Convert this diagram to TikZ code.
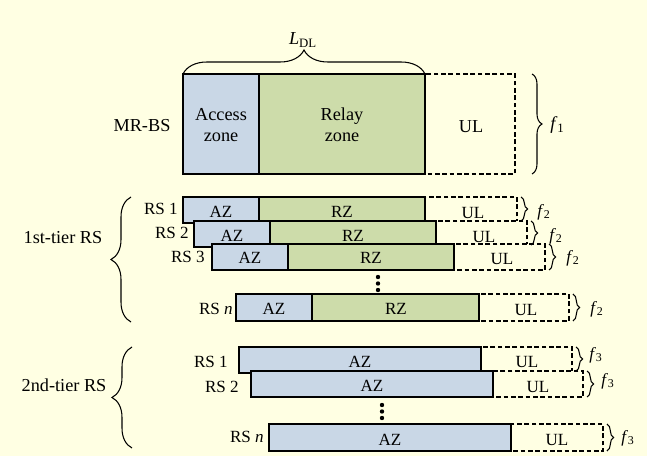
\documentclass[tikz,border=0pt]{standalone}
\usepackage{fontspec}
\setmainfont{Liberation Serif}
\usepackage{xcolor}
\usepackage{tikz}
\usetikzlibrary{decorations.pathreplacing}

\definecolor{bgyellow}{RGB}{255,255,227}
\definecolor{azblue}{RGB}{201,215,230}
\definecolor{rzgreen}{RGB}{205,220,170}

\begin{document}
\begin{tikzpicture}[x=0.75pt,y=0.75pt,yscale=-1,xscale=1,
  zonebox/.style={draw=black,line width=1.1pt},
  azbox/.style={zonebox,fill=azblue},
  rzbox/.style={zonebox,fill=rzgreen},
  ulbox/.style={draw=black,line width=1pt,dash pattern=on 3.5pt off 2pt,fill=bgyellow},
  rowtxt/.style={font=\rmfamily\fontsize{12.8}{14}\selectfont,inner sep=0pt},
  bigtxt/.style={font=\rmfamily\fontsize{13.7}{16}\selectfont,inner sep=0pt,align=center},
  brc/.style={draw=black,line width=0.8pt,decorate,decoration={brace,amplitude=#1}},
  ]
%set diagram size to 647 x 456
\fill [bgyellow] (0,0) rectangle (647,456);
\useasboundingbox (0,0) rectangle (647,456);

%Shape: MR-BS frame
\draw [ulbox] (425,74) rectangle (515,174);
\draw [azbox] (183,74) rectangle (259,174);
\draw [rzbox] (259,74) rectangle (425,174);
%Shape: Brace L_DL
\draw [brc=18pt] (183,74) -- (425,74);
%Shape: Brace f1
\draw [brc=7.5pt] (532,74) -- (532,174);

% Text Node
\node [bigtxt] (ldl) at (303,40) {\textit{L}\textsubscript{DL}};
\node [bigtxt] (mrbs) at (142,126) {MR-BS};
\node [bigtxt] (access) at (221,125) {Access\\zone};
\node [bigtxt] (relay) at (342,125) {Relay\\zone};
\node [bigtxt] (ulbs) at (471,127) {UL};
\node [bigtxt,anchor=west] (fone) at (550,125) {\textit{f}\textsubscript{1}};

%Shape: 1st-tier RS 1
\draw [ulbox] (425,197) rectangle (517,223);
\draw [azbox] (183,197) rectangle (259,223);
\draw [rzbox] (259,197) rectangle (425,223);
%Shape: 1st-tier RS 2
\draw [ulbox] (436,221) rectangle (527,247);
\draw [azbox] (194,221) rectangle (270,247);
\draw [rzbox] (270,221) rectangle (436,247);
%Shape: 1st-tier RS 3
\draw [ulbox] (454,244) rectangle (545,270);
\draw [azbox] (212,244) rectangle (288,270);
\draw [rzbox] (288,244) rectangle (454,270);
%Shape: 1st-tier RS n
\draw [ulbox] (479,294) rectangle (569,321);
\draw [azbox] (236,294) rectangle (312,321);
\draw [rzbox] (312,294) rectangle (479,321);
%Shape: Dots
\fill (378,277) circle (2.2) (378,283.5) circle (2.2) (378,290) circle (2.2);
%Shape: Braces f2
\draw [brc=5pt] (521,197) -- (521,221);
\draw [brc=5pt] (531,221) -- (531,245);
\draw [brc=5pt] (549,244) -- (549,270);
\draw [brc=5pt] (573,294) -- (573,321);
%Shape: Brace 1st-tier
\draw [brc=15pt] (131,322) -- (131,197);

% Text Node
\node [bigtxt] (tierone) at (63,238) {1st-tier RS};
\node [rowtxt,anchor=east] (rsa) at (178,209) {RS 1};
\node [rowtxt,anchor=east] (rsb) at (189,233) {RS 2};
\node [rowtxt,anchor=east] (rsc) at (205,257) {RS 3};
\node [rowtxt,anchor=east] (rsn) at (233,309) {RS \textit{n}};
\node [rowtxt] (aza) at (221,212) {AZ};
\node [rowtxt] (rza) at (342,212) {RZ};
\node [rowtxt] (ula) at (473,213) {UL};
\node [rowtxt] (azb) at (232,236) {AZ};
\node [rowtxt] (rzb) at (353,236) {RZ};
\node [rowtxt] (ulb) at (484,237) {UL};
\node [rowtxt] (azc) at (250,258) {AZ};
\node [rowtxt] (rzc) at (371,258) {RZ};
\node [rowtxt] (ulc) at (502,259) {UL};
\node [rowtxt] (azn) at (274,309) {AZ};
\node [rowtxt] (rzn) at (396,309) {RZ};
\node [rowtxt] (uln) at (526,310) {UL};
\node [rowtxt,anchor=west] (fta) at (537,212) {\textit{f}\textsubscript{2}};
\node [rowtxt,anchor=west] (ftb) at (549,236) {\textit{f}\textsubscript{2}};
\node [rowtxt,anchor=west] (ftc) at (566,258) {\textit{f}\textsubscript{2}};
\node [rowtxt,anchor=west] (ftn) at (590,309) {\textit{f}\textsubscript{2}};

%Shape: 2nd-tier RS 1
\draw [ulbox] (481,347) rectangle (572,373);
\draw [azbox] (239,347) rectangle (481,373);
%Shape: 2nd-tier RS 2
\draw [ulbox] (493,371) rectangle (583,397);
\draw [azbox] (251,371) rectangle (493,397);
%Shape: 2nd-tier RS n
\draw [ulbox] (511,424) rectangle (603,451);
\draw [azbox] (269,424) rectangle (511,451);
%Shape: Dots
\fill (382,405) circle (2.2) (382,411.5) circle (2.2) (382,418) circle (2.2);
%Shape: Braces f3
\draw [brc=5pt] (576,347) -- (576,371);
\draw [brc=5pt] (587,371) -- (587,397);
\draw [brc=5pt] (607,424) -- (607,451);
%Shape: Brace 2nd-tier
\draw [brc=15pt] (132,448) -- (132,347);

% Text Node
\node [bigtxt] (tiertwo) at (64,385) {2nd-tier RS};
\node [rowtxt,anchor=east] (rsd) at (228,362) {RS 1};
\node [rowtxt,anchor=east] (rse) at (239,387) {RS 2};
\node [rowtxt,anchor=east] (rsm) at (264,437) {RS \textit{n}};
\node [rowtxt] (azd) at (360,362) {AZ};
\node [rowtxt] (uld) at (527,362) {UL};
\node [rowtxt] (aze) at (372,386) {AZ};
\node [rowtxt] (ule) at (538,387) {UL};
\node [rowtxt] (azm) at (390,440) {AZ};
\node [rowtxt] (ulm) at (557,440) {UL};
\node [rowtxt,anchor=west] (fha) at (589,355) {\textit{f}\textsubscript{3}};
\node [rowtxt,anchor=west] (fhb) at (601,381) {\textit{f}\textsubscript{3}};
\node [rowtxt,anchor=west] (fhn) at (621,438) {\textit{f}\textsubscript{3}};

\end{tikzpicture}
\end{document}
